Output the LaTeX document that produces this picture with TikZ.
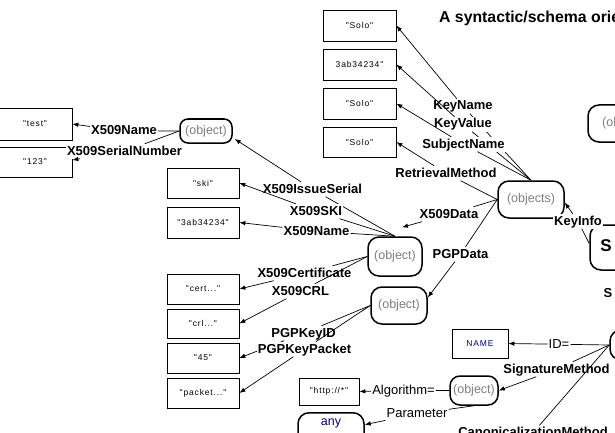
\documentclass[tikz,border=0pt]{standalone}
\usepackage{fontspec}
\setmainfont{Liberation Sans}
\newfontfamily\boxfont[LetterSpace=10,Ligatures=TeXOff]{Liberation Sans}
\usetikzlibrary{arrows.meta}
\definecolor{objgray}{RGB}{128,128,128}
\definecolor{litblue}{RGB}{0,0,128}
\tikzset{
  valbox/.style={rectangle, draw, line width=0.7pt, minimum width=72pt,
                 minimum height=30pt, inner sep=0pt,
                 font=\boxfont\fontsize{8.5}{9}\selectfont},
  resnode/.style={rectangle, rounded corners=11pt, draw, line width=1.5pt,
                  inner sep=0pt, text=objgray, font=\fontsize{12.5}{14}\selectfont},
  prop/.style={anchor=base, fill=white, inner xsep=1pt, inner ysep=0.5pt,
               text height=10.5pt, text depth=3pt,
               font=\bfseries\fontsize{13}{15}\selectfont},
  attr/.style={prop, font=\fontsize{13}{15}\selectfont},
  wire/.style={line width=0.7pt},
  link/.style={wire, -{Latex[length=6pt,width=4.5pt]}},
}

\begin{document}
\begin{tikzpicture}[x=1pt, y=-1pt]
\useasboundingbox (0,0) rectangle (615,433);
\clip (0,0) rectangle (615,433);
\fill[white] (0,0) rectangle (615,433);

% title
\node[anchor=base west, inner sep=0pt, font=\bfseries\fontsize{15.8}{18}\selectfont]
  (title) at (439,23) {A syntactic/schema oriented view};

%% == literal values ==========================================================
\node[valbox, minimum width=74pt, minimum height=32pt] (vTest)   at (35,124)  {"test"};
\node[valbox, minimum width=74pt]                     (vSerial) at (35,162)  {"123"};
\node[valbox]                     (vSki)    at (203,183)   {"ski"};
\node[valbox, minimum height=31pt] (vIssuer) at (203,222.5) {"3ab34234"};
\node[valbox]                     (vCert)   at (203,289)   {"cert..."};
\node[valbox, minimum height=29pt] (vCrl)    at (203,323.5) {"crl..."};
\node[valbox]                     (vKeyId)  at (203,358)   {"45"};
\node[valbox]                     (vPacket) at (203,393)   {"packet..."};

\node[valbox, minimum width=73pt, minimum height=31pt] (vKeyName)   at (359.5,25.5)  {"Solo"};
\node[valbox, minimum width=73pt, minimum height=31pt] (vKeyValue)  at (359.5,64.5)  {3ab34234"};
\node[valbox, minimum width=73pt, minimum height=31pt] (vSubject)   at (359.5,103.5) {"Solo"};
\node[valbox, minimum width=73pt]                      (vRetrieval) at (359.5,142)   {"Solo"};

\node[valbox, minimum width=56pt, minimum height=29pt, text=litblue,
      font=\boxfont\fontsize{8.5}{9}\selectfont] (vName) at (480,343.5) {NAME};
\node[valbox, minimum width=60pt, minimum height=27pt] (vAlg) at (329,391.5) {"http://*"};

%% == resources ===============================================================
\node[resnode, rounded corners=8pt, minimum width=52pt, minimum height=24pt]
  (oX509) at (206,131) {(object)};
\node[resnode, minimum width=54pt, minimum height=39pt] (oData)    at (395,256.5) {(object)};
\node[resnode, minimum width=56pt, minimum height=37pt] (oPgp)     at (399,305.5) {(object)};
\node[resnode, minimum width=66pt, minimum height=37pt] (oKeys)    at (531,199.5) {(objects)};
\node[resnode, rounded corners=10pt, minimum width=48pt, minimum height=29pt]
  (oSigMeth) at (474,390.5) {(object)};
\node[resnode, anchor=north, minimum width=66pt, inner ysep=3pt, text=litblue,
      text height=10pt, text depth=22pt] (oAny) at (331,412) {any};
\node[resnode, minimum width=70pt, minimum height=37pt] (oTop)     at (623,123.5) {(object)};
\node[resnode, minimum width=70pt, minimum height=45pt] (oSig)     at (625,247.5) {};
\node[font=\bfseries\fontsize{17}{19}\selectfont, inner sep=0pt] (tSig) at (606,245.5) {S};
\node[resnode, minimum width=80pt, minimum height=30pt] (oSigInfo) at (650,345) {};

%% == X509 object =============================================================
\node[prop] (lXName) at (124,135) {X509Name};
\draw[link] (oX509.west) -- (lXName) -- (vTest.east);
\node[prop] (lXSerial) at (124.5,155) {X509SerialNumber};
\draw[link] (oX509.west) -- (lXSerial) -- ([shift={(0,-2)}]vSerial.east);

%% == X509Data ================================================================
\node[prop] (lIssueSer) at (312.5,193) {X509IssueSerial};
\draw[link] (oData.north) -- (lIssueSer) -- ([shift={(2,8)}]oX509.east);
\node[prop] (lSki) at (316,215) {X509SKI};
\draw[link] (oData.north) -- (lSki) -- (vSki.east);
\node[prop] (lXName2) at (316.5,235) {X509Name};
\draw[link] (oData.north) -- (lXName2) -- (vIssuer.east);
\node[prop] (lXCert) at (304.5,277) {X509Certificate};
\draw[link] (oData.west) -- (lXCert) -- (vCert.east);
\node[prop] (lXCrl) at (300.5,295) {X509CRL};
\draw[link] (oData.west) -- (lXCrl) -- (vCrl.east);

%% == PGPData =================================================================
\node[prop] (lKeyId) at (303.5,337) {PGPKeyID};
\draw[link] (oPgp.west) -- (lKeyId) -- (vKeyId.east);
\node[prop] (lKeyPack) at (304.5,353) {PGPKeyPacket};
\draw[link] (oPgp.west) -- (lKeyPack) -- (vPacket.east);

%% == KeyInfo =================================================================
\node[prop] (lKeyName) at (463,110) {KeyName};
\draw[link] (oKeys.north) -- (lKeyName) -- (vKeyName.east);
\node[prop] (lKeyValue) at (463,128) {KeyValue};
\draw[link] (oKeys.north) -- (lKeyValue) -- (vKeyValue.east);
\node[prop] (lSubject) at (463.5,148) {SubjectName};
\draw[link] (oKeys.north) -- (lSubject) -- (vSubject.east);
\node[prop] (lRetr) at (446,177) {RetrievalMethod};
\draw[link] (oKeys.west) -- (lRetr) -- (vRetrieval.east);
\node[prop] (lXData) at (449,218) {X509Data};
\draw[link] (oKeys.west) -- (lXData) -- ([shift={(7,-9)}]oData.north);
\node[prop] (lPgpData) at (460.5,258) {PGPData};
\draw[link] (oKeys.west) -- (lPgpData) -- ([shift={(0,-8)}]oPgp.east);
\node[prop] (lKeyInfo) at (578,225) {KeyInfo};
\draw[link] ([shift={(0,-4)}]oSig.west) -- (lKeyInfo) -- ([shift={(0,3)}]oKeys.east);
\node[prop, fill=none] (lS) at (608,297) {S};

%% == SignedInfo ==============================================================
\node[attr] (lId) at (559,348) {ID=};
\draw[link] (oSigInfo.west) -- (lId) -- (vName.east);
\node[prop] (lSigMeth) at (556.5,373) {SignatureMethod};
\draw[link] (oSigInfo.west) -- (lSigMeth) -- (oSigMeth.east);
\node[prop] (lCanon) at (533,436.5) {CanonicalizationMethod};
\draw[wire] (oSigInfo.west) -- (lCanon);
\node[attr] (lAlg) at (403.5,394) {Algorithm=};
\draw[link] (oSigMeth.west) -- (lAlg) -- (vAlg.east);
\node[attr] (lParam) at (417,417.5) {Parameter};
\draw[link] (oSigMeth.south) -- (lParam) -- (oAny);
\end{tikzpicture}
\end{document}
